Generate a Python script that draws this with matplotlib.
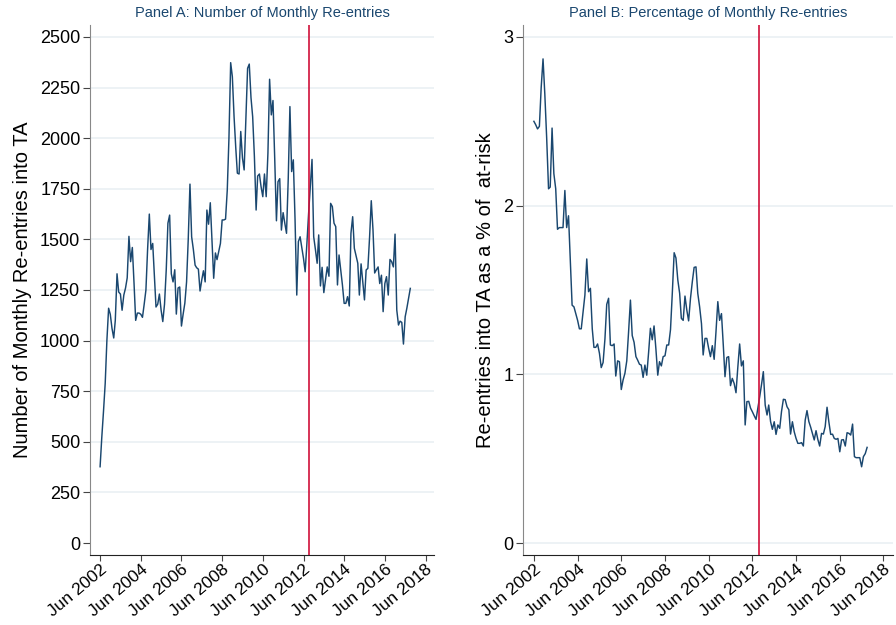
import numpy as np
import pandas as pd
import matplotlib
matplotlib.use("Agg")
import matplotlib.pyplot as plt
import matplotlib.dates as mdates

plt.rcParams['font.family'] = ['Liberation Sans', 'DejaVu Sans']

# monthly series, Jun 2002 - Sep 2017
months = pd.date_range('2002-06-01', periods=184, freq='MS')

reentries = [
    377, 520, 650, 790, 1000, 1160, 1130, 1060, 1013, 1100, 1330, 1240,
    1230, 1150, 1225, 1260, 1310, 1515, 1390, 1460, 1280, 1100, 1136, 1136,
    1130, 1115, 1180, 1250, 1450, 1625, 1450, 1480, 1320, 1166, 1180, 1230,
    1150, 1094, 1180, 1350, 1580, 1620, 1330, 1290, 1350, 1131, 1260, 1265,
    1072, 1130, 1185, 1290, 1500, 1773, 1513, 1450, 1373, 1360, 1353, 1245,
    1300, 1345, 1290, 1645, 1575, 1681, 1500, 1308, 1433, 1400, 1440, 1480,
    1596, 1596, 1600, 1744, 2000, 2373, 2304, 2106, 1950, 1827, 1823, 2033,
    1902, 1843, 2100, 2345, 2366, 2200, 2106, 1910, 1645, 1813, 1823, 1760,
    1711, 1823, 1711, 1925, 2291, 2115, 2186, 1900, 1592, 1785, 1800, 1546,
    1632, 1580, 1530, 1800, 2156, 1835, 1893, 1600, 1225, 1489, 1513, 1460,
    1406, 1340, 1480, 1630, 1760, 1895, 1513, 1450, 1382, 1522, 1270, 1362,
    1237, 1300, 1364, 1318, 1678, 1662, 1580, 1563, 1275, 1423, 1350, 1275,
    1184, 1184, 1217, 1171, 1530, 1612, 1456, 1420, 1382, 1225, 1379, 1290,
    1201, 1349, 1357, 1513, 1691, 1547, 1334, 1350, 1364, 1282, 1323, 1143,
    1282, 1316, 1225, 1401, 1390, 1364, 1526, 1151, 1077, 1096, 1090, 983,
    1118, 1160, 1210, 1258,
]

pct_reentries = [
    2.50, 2.48, 2.455, 2.47, 2.70, 2.87, 2.66, 2.40, 2.10, 2.11, 2.46, 2.19,
    2.10, 1.86, 1.87, 1.87, 1.87, 2.09, 1.87, 1.94, 1.67, 1.41, 1.40, 1.36,
    1.32, 1.27, 1.27, 1.37, 1.47, 1.684, 1.49, 1.51, 1.27, 1.16, 1.16, 1.18,
    1.125, 1.04, 1.07, 1.21, 1.415, 1.451, 1.174, 1.17, 1.18, 0.99, 1.08, 1.075,
    0.91, 0.966, 1.006, 1.08, 1.25, 1.44, 1.23, 1.19, 1.105, 1.085, 1.06, 1.055,
    0.982, 1.055, 0.995, 1.13, 1.273, 1.205, 1.287, 1.15, 0.995, 1.075, 1.05, 1.105,
    1.11, 1.174, 1.174, 1.265, 1.48, 1.721, 1.69, 1.56, 1.48, 1.332, 1.32, 1.464,
    1.38, 1.317, 1.45, 1.55, 1.634, 1.637, 1.48, 1.40, 1.30, 1.115, 1.213, 1.213,
    1.154, 1.105, 1.17, 1.089, 1.25, 1.431, 1.32, 1.36, 1.17, 0.986, 1.10, 1.105,
    0.933, 0.976, 0.946, 0.891, 1.04, 1.18, 1.05, 1.08, 0.70, 0.838, 0.84, 0.80,
    0.778, 0.755, 0.733, 0.80, 0.867, 0.94, 1.016, 0.818, 0.759, 0.818, 0.72, 0.674,
    0.719, 0.644, 0.70, 0.68, 0.78, 0.852, 0.85, 0.808, 0.79, 0.646, 0.719, 0.66,
    0.62, 0.591, 0.591, 0.595, 0.575, 0.729, 0.785, 0.72, 0.686, 0.65, 0.611, 0.666,
    0.613, 0.575, 0.65, 0.646, 0.69, 0.805, 0.719, 0.644, 0.645, 0.62, 0.615, 0.62,
    0.541, 0.611, 0.613, 0.575, 0.654, 0.65, 0.64, 0.705, 0.512, 0.506, 0.506, 0.506,
    0.452, 0.512, 0.53, 0.567,
]

policy_date = pd.Timestamp('2012-09-15')
tick_dates = pd.date_range('2002-06-01', '2018-06-01', freq='24MS')
tick_labels = [d.strftime('Jun %Y') for d in tick_dates]

navy = '#1a476f'
red = '#d0103a'
grid_col = '#e8eff2'

fig = plt.figure(figsize=(8.96, 6.25), dpi=100)
axA = fig.add_axes([0.1004, 0.112, 0.384, 0.848])
axB = fig.add_axes([0.5837, 0.112, 0.4125, 0.848])

panels = [
    (axA, reentries, [0, 250, 500, 750, 1000, 1250, 1500, 1750, 2000, 2250, 2500],
     (-59, 2559), 'Panel A: Number of Monthly Re-entries',
     'Number of Monthly Re-entries into TA', False),
    (axB, pct_reentries, [0, 1, 2, 3], (-0.071, 3.071),
     'Panel B: Percentage of Monthly Re-entries',
     'Re-entries into TA as a % of  at-risk', True),
]

for ax, vals, yticks, ylim, title, ylabel, grid_zero in panels:
    for t in yticks:
        if t == 0 and not grid_zero:
            continue
        ax.axhline(t, color=grid_col, lw=1.1, zorder=0)
    ax.plot(months, vals, color=navy, lw=1.05, zorder=2)
    ax.axvline(policy_date, color=red, lw=1.2, zorder=3)
    ax.set_ylim(*ylim)
    ax.set_xlim(pd.Timestamp('2001-12-01'), pd.Timestamp('2018-11-01'))
    ax.set_yticks(yticks)
    ax.set_xticks(tick_dates)
    ax.set_xticklabels(tick_labels, rotation=40, ha='right', rotation_mode='anchor')
    ax.tick_params(axis='y', labelsize=13, length=5, width=0.8, color='#444444', pad=2)
    ax.tick_params(axis='x', labelsize=12.5, length=4, width=0.8, color='#444444', pad=1)
    ax.set_title(title, fontsize=10.5, color='#1a476f', pad=6)
    ax.set_ylabel(ylabel, fontsize=14.5, labelpad=6)
    ax.spines['top'].set_visible(False)
    ax.spines['right'].set_visible(False)
    ax.spines['left'].set_color('#888888')
    ax.spines['bottom'].set_color('#222222')

fig.savefig('out.png', dpi=100)
